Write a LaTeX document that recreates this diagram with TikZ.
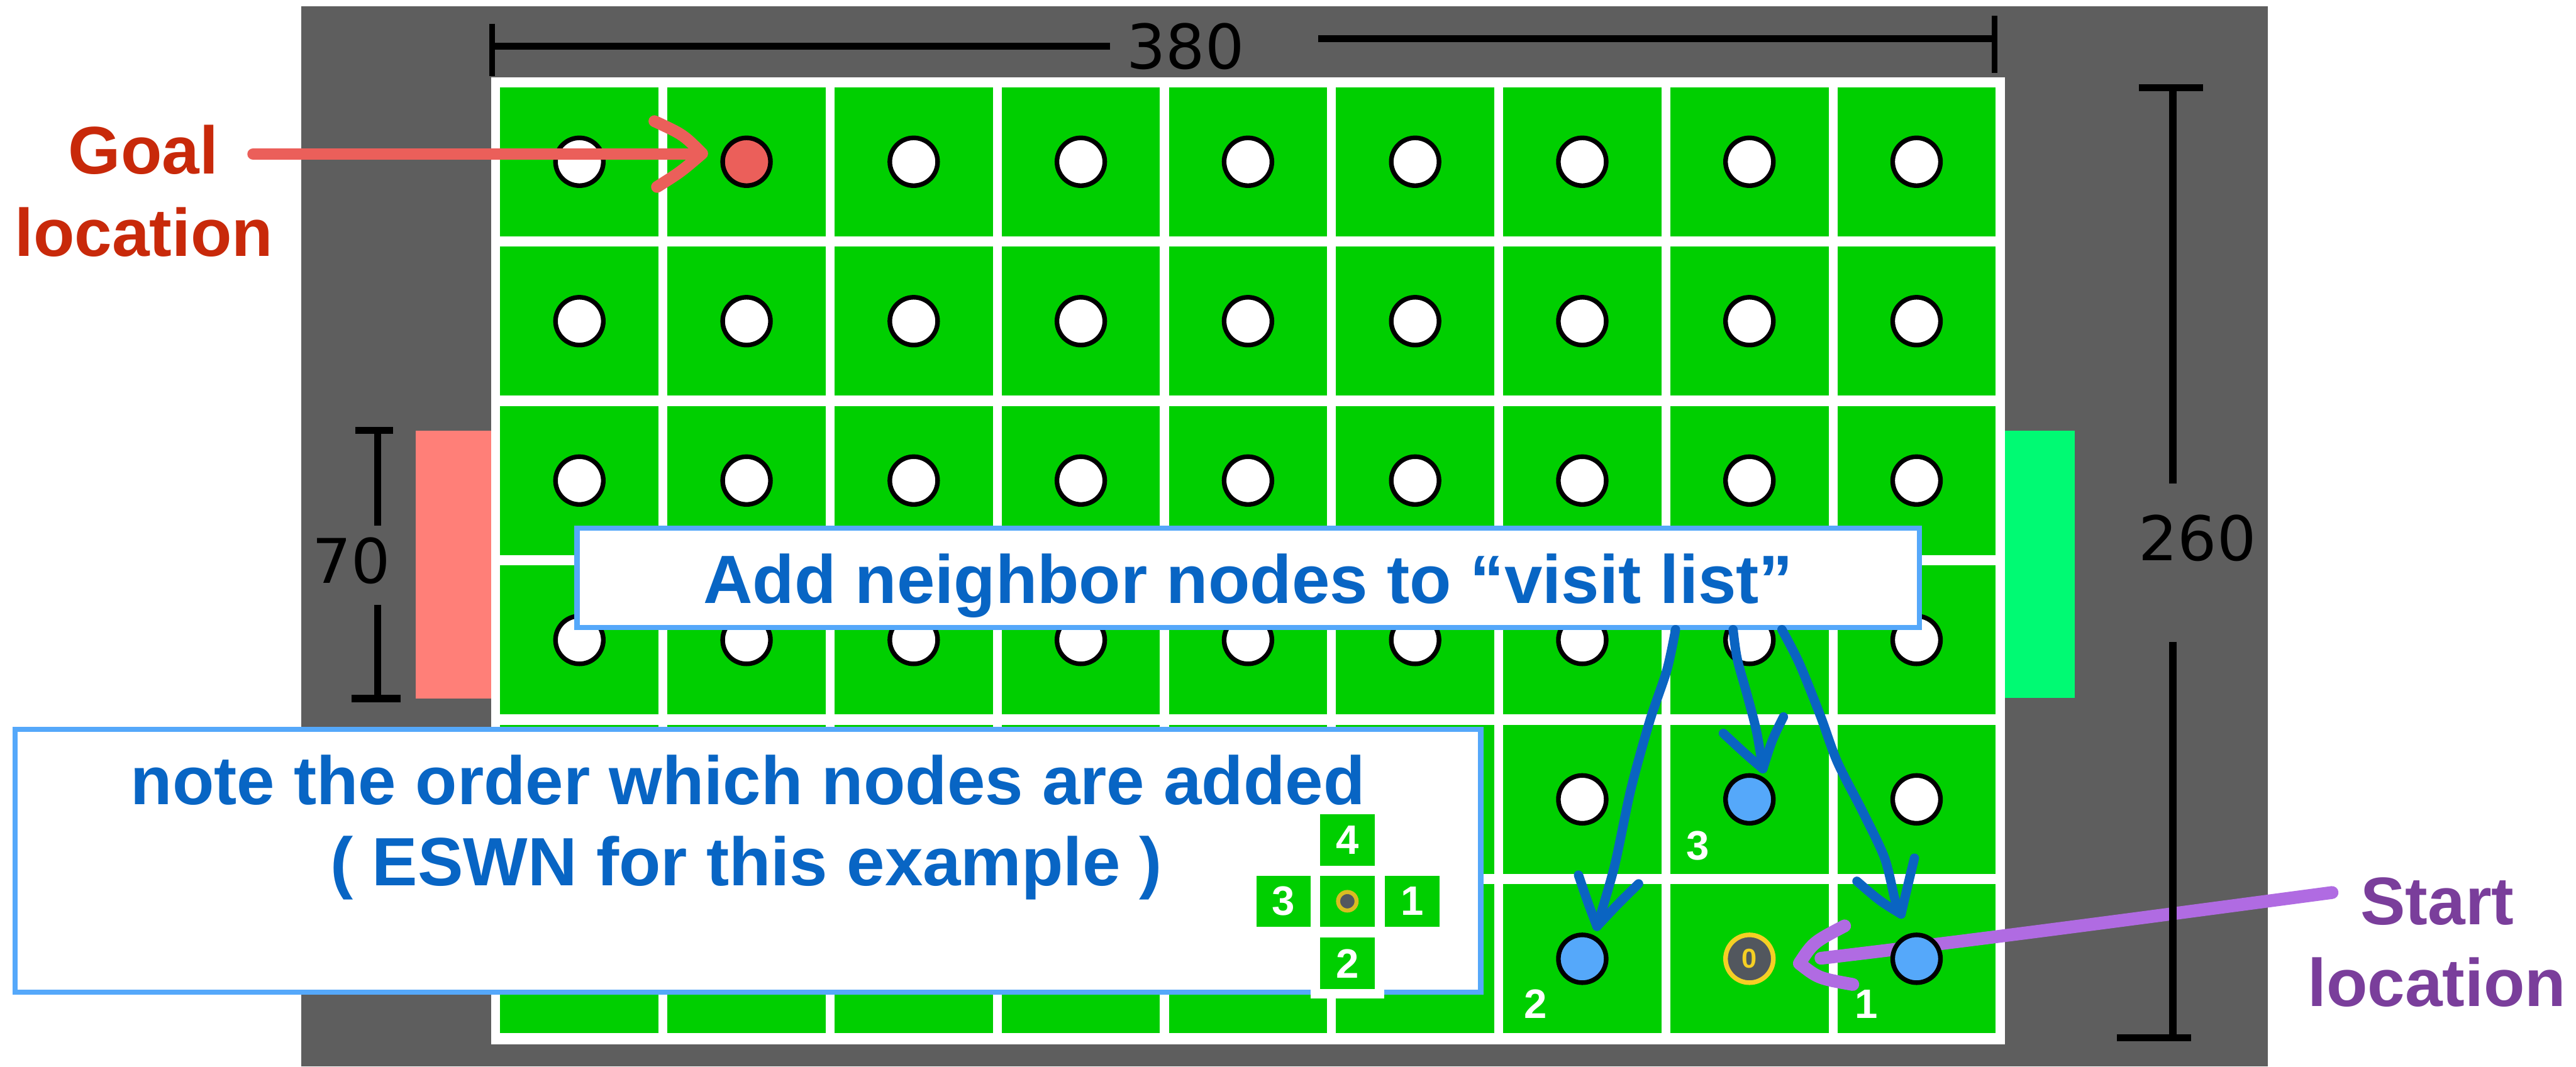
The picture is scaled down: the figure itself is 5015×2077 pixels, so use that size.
\documentclass[tikz,border=0pt]{standalone}
\usepackage{fontspec}
\setmainfont{Liberation Sans}
\newfontfamily\dejavu{DejaVu Sans}
\usetikzlibrary{calc}
\definecolor{bggray}{RGB}{94,94,94}
\definecolor{cellgreen}{RGB}{0,207,0}
\definecolor{springg}{RGB}{0,250,115}
\definecolor{salmonc}{RGB}{255,127,120}
\definecolor{visitblue}{RGB}{85,168,250}
\definecolor{boxblue}{RGB}{85,168,250}
\definecolor{textblue}{RGB}{8,101,196}
\definecolor{arrowblue}{RGB}{10,100,194}
\definecolor{goalred}{RGB}{235,95,90}
\definecolor{goaltext}{RGB}{200,41,10}
\definecolor{purplearrow}{RGB}{176,107,226}
\definecolor{purpletext}{RGB}{122,62,155}
\definecolor{startgray}{RGB}{82,87,94}
\definecolor{startyellow}{RGB}{245,207,36}
\definecolor{miniyellow}{RGB}{217,188,34}
\begin{document}
\begin{tikzpicture}[x=0.01cm,y=-0.01cm,
  cell/.style={rectangle, fill=cellgreen, minimum width=3.08cm, minimum height=2.9cm, inner sep=0pt, outer sep=0pt},
  dot/.style={circle, draw=black, fill=white, line width=0.09cm, minimum size=0.93cm, inner sep=0pt},
  dot1-0/.style={fill=goalred},
  dot6-5/.style={fill=visitblue},
  dot7-4/.style={fill=visitblue},
  dot8-5/.style={fill=visitblue},
  dot7-5/.style={fill=startgray, draw=startyellow},
  bigtxt/.style={font=\fontsize{37.84}{45}\selectfont\bfseries, inner sep=0pt, anchor=base},
  lbltxt/.style={font=\fontsize{37.3}{45}\selectfont\bfseries, inner sep=0pt, anchor=base},
  dimtxt/.style={font=\dejavu\fontsize{34.1}{40}\selectfont, inner sep=0pt, text=black},
  numtxt/.style={font=\fontsize{22.76}{27}\selectfont\bfseries, text=white, inner sep=0pt},
  minicell/.style={rectangle, fill=cellgreen, minimum width=1.06cm, minimum height=1.0cm, inner sep=0pt, text=white, font=\fontsize{22.76}{27}\selectfont\bfseries},
  notebox/.style={rectangle, draw=boxblue, fill=white, line width=0.1cm, inner sep=0pt},
  dimline/.style={line width=0.14cm, black},
  bluearrow/.style={draw=arrowblue, line width=0.18cm, line cap=round, line join=round},
  redarrow/.style={draw=goalred, line width=0.23cm, line cap=round, line join=round},
  purparrow/.style={draw=purplearrow, line width=0.25cm, line cap=round, line join=round}
]
\useasboundingbox (0,0) rectangle (5015,2077);
\fill[white] (0,0) rectangle (5015,2077);
% field
\fill[bggray] (587,12) rectangle (4415,2077);
\fill[salmonc] (809,839) rectangle (957,1360);
\fill[springg] (3903,839) rectangle (4039,1359);
\fill[white] (956,151) rectangle (3903,2034);
\foreach \i in {0,...,8}{
  \foreach \j in {0,...,5}{
    \node[cell] (cell-\i-\j) at ({1128+325.4*\i},{315+310.4*\j}) {};
  }
}
% purple start arrow (under the circles)
\coordinate (sA) at (4540,1738);
\coordinate (sT) at (3503,1876);
\draw[purparrow] (sA) .. controls (4150,1790) and (3850,1830) .. (3545,1866);
\draw[purparrow] (3591,1803) .. controls (3530,1835) .. (sT) .. controls (3540,1905) .. (3607,1917);
% circles
\foreach \i in {0,...,8}{
  \foreach \j in {0,...,5}{
    \node[dot, dot\i-\j/.try] (c-\i-\j) at ({1128+325.4*\i},{315+310.4*\j}) {};
  }
}
\node[font=\fontsize{15.1}{18}\selectfont\bfseries, text=startyellow, inner sep=0pt] (zero) at (c-7-5) {0};
\node[numtxt] (n3) at (3305,1647) {3};
\node[numtxt] (n2) at (2989,1955) {2};
\node[numtxt] (n1) at (3633,1955) {1};
% goal arrow
\node[lbltxt, text=goaltext] (goal1) at (279,339) {Goal};
\node[lbltxt, text=goaltext] (goal2) at (280,499) {location};
\coordinate (gA) at (493,300);
\coordinate (gT) at (1367,299);
\draw[redarrow] (gA) -- (1355,300);
\draw[redarrow] (1274,236) .. controls (1330,262) .. (gT) .. controls (1325,335) .. (1279,364);
% start label
\node[lbltxt, text=purpletext] (start1) at (4745,1800) {Start};
\node[lbltxt, text=purpletext] (start2) at (4744,1959) {location};
% top box
\node[notebox, minimum width=26.12cm, minimum height=1.93cm] (topbox) at (2430,1125.5) {};
\node[bigtxt, text=textblue] (toptext) at (2430,1175) {Add neighbor nodes to “visit list”};
% blue arrows
\coordinate (bA) at (3262,1226);
\coordinate (bB) at (3374,1226);
\coordinate (bC) at (3469,1226);
\coordinate (tA) at (3109,1804);
\coordinate (tB) at (3432,1497);
\coordinate (tC) at (3701,1780);
\draw[bluearrow] plot[smooth] coordinates {(bA) (3245,1305) (3212,1403) (3175,1537) (3143,1687) (tA)};
\draw[bluearrow] (3073,1704) .. controls (3092,1760) .. (tA) .. controls (3150,1760) .. (3190,1721);
\draw[bluearrow] plot[smooth] coordinates {(bB) (3382,1283) (3403,1359) (3420,1426) (tB)};
\draw[bluearrow] (3355,1428) .. controls (3400,1470) .. (tB) .. controls (3450,1440) .. (3472,1396);
\draw[bluearrow] plot[smooth] coordinates {(bC) (3503,1292) (3544,1394) (3577,1484) (3627,1582) (3669,1671) (3689,1751) (tC)};
\draw[bluearrow] (3615,1716) .. controls (3660,1755) .. (tC) .. controls (3715,1720) .. (3727,1671);
% bottom box
\node[notebox, minimum width=28.52cm, minimum height=5.12cm] (botbox) at (1456,1676) {};
\node[bigtxt, text=textblue] (bot1) at (1456,1567) {note the order which nodes are added};
\node[bigtxt, text=textblue] (bot2) at (1453,1725) {( ESWN for this example )};
% compass
\fill[white] (2551,1890) rectangle (2695,1944);
\node[minicell] (m4) at (2623,1636) {4};
\node[minicell] (m0) at (2623,1755) {};
\node[minicell] (m3) at (2499,1755) {3};
\node[minicell] (m1) at (2749,1755) {1};
\node[minicell] (m2) at (2623,1876) {2};
\node[circle, fill=startgray, draw=miniyellow, line width=0.08cm, minimum size=0.36cm, inner sep=0pt] (mdot) at (m0) {};
% dimension 380
\node[dimtxt] (d380) at (2308,90) {380};
\draw[dimline] (958,90) -- (2161,90);
\draw[dimline] (2566,75) -- (3883,75);
\draw[line width=0.12cm] (958,46) -- (958,148);
\draw[line width=0.12cm] (3883,31) -- (3883,142);
% dimension 260
\node[dimtxt] (d260) at (4278,1048) {260};
\draw[dimline] (4164,171) -- (4289,171);
\draw[dimline] (4230,171) -- (4230,942);
\draw[dimline] (4230,1250) -- (4230,2021);
\draw[dimline] (4121,2021) -- (4266,2021);
% dimension 70
\node[dimtxt] (d70) at (684,1092) {70};
\draw[dimline] (692,838) -- (765,838);
\draw[dimline] (735,838) -- (735,1023);
\draw[dimline] (735,1178) -- (735,1360);
\draw[dimline] (684,1360) -- (780,1360);
\end{tikzpicture}
\end{document}
